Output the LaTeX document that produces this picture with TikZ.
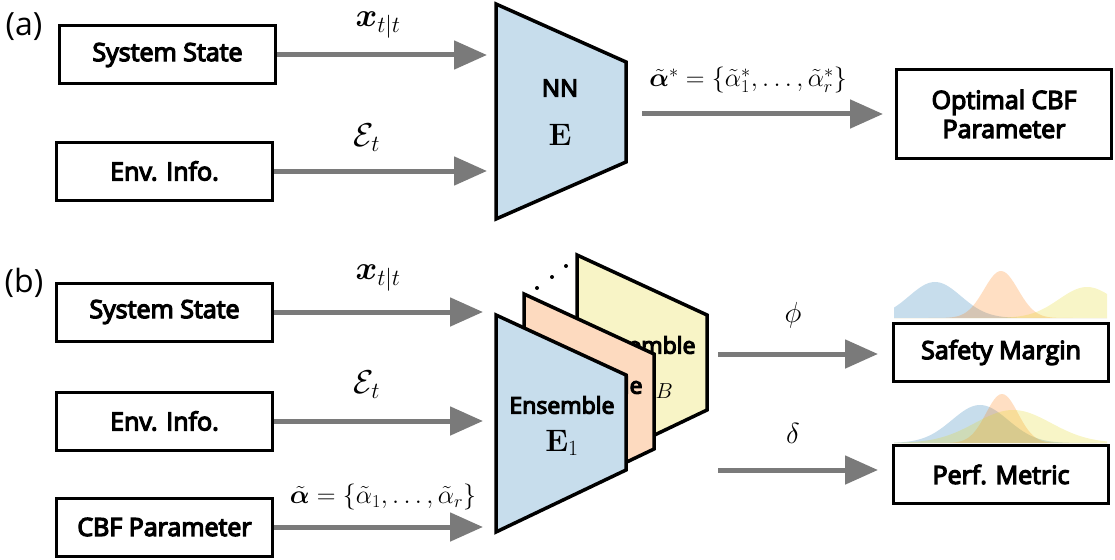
\RequirePackage{fix-cm}
\documentclass[tikz,border=0pt]{standalone}
\usepackage[no-math]{fontspec}
\usepackage{amsmath,bm}
\newfontfamily\ns{Open Sans}[AutoFakeBold=5]
\usetikzlibrary{arrows.meta}
\definecolor{arrgray}{RGB}{122,122,122}
\definecolor{cblue}{RGB}{199,221,236}
\definecolor{corange}{RGB}{253,218,191}
\definecolor{cyellow}{RGB}{248,244,198}
\definecolor{tabblue}{RGB}{31,119,180}
\definecolor{taborange}{RGB}{255,127,14}
\definecolor{tabyellow}{RGB}{228,216,30}
\tikzset{
  box/.style={draw=black, line width=3pt, minimum width=216pt, minimum height=58pt, inner sep=0pt, font=\ns\bfseries\fontsize{25}{29}\selectfont, align=center},
  conn/.style={draw=arrgray, line width=5pt, -{Triangle[length=33pt,width=28pt]}},
  lbl/.style={inner sep=0pt, font=\fontsize{26}{30}\selectfont},
  biglbl/.style={inner sep=0pt, font=\fontsize{33}{37}\selectfont},
  grk/.style={inner sep=0pt, font=\fontsize{29}{33}\selectfont},
  trap/.style={draw=black, line width=3.5pt, line join=miter},
  tlbl/.style={inner sep=0pt, font=\ns\bfseries\fontsize{23}{27}\selectfont},
  nnlbl/.style={inner sep=0pt, font=\ns\bfseries\fontsize{24}{28}\selectfont},
  mlbl/.style={inner sep=0pt, font=\fontsize{31}{35}\selectfont},
  tag/.style={inner sep=0pt, font=\ns\fontsize{32}{36}\selectfont},
}
\begin{document}
\begin{tikzpicture}[x=1pt,y=-1pt]
\useasboundingbox (0,0) rectangle (1115,559);
% ---------- (a) ----------
\node[tag] (taga) at (24,27) {(a)};
\node[box] (ssa) at (167.5,55) {System State};
\node[box] (enva) at (164.5,171) {Env. Info.};
\node[box, minimum width=215pt, minimum height=89pt] (opt) at (1004,114) {Optimal CBF\\Parameter};
\coordinate (ina) at (487,0);
\draw[conn] (ssa.east) -- (ssa.east -| ina);
\draw[conn] (enva.east) -- (enva.east -| ina);
\node[biglbl] (lxa) at (378,25) {$\boldsymbol{x}_{t|t}$};
\node[biglbl] (lea) at (367,138) {$\mathcal{E}_t$};
\draw[trap, fill=cblue] (496,4) -- (626,62) -- (626,162) -- (496,219) -- cycle;
\node[nnlbl] (nnt) at (560,88) {NN};
\node[mlbl] (nne) at (560,135) {$\mathbf{E}$};
\coordinate (outa) at (642,114);
\draw[conn, shorten >=12pt] (outa) -- (opt.west);
\node[lbl] (lal) at (748,80) {$\tilde{\boldsymbol{\alpha}}^{*}=\{\tilde{\alpha}_1^{*},\ldots,\tilde{\alpha}_r^{*}\}$};
% ---------- (b) ----------
\node[tag] (tagb) at (24,283) {(b)};
\node[box] (ssb) at (164.5,312) {System State};
\node[box] (envb) at (164.5,421) {Env. Info.};
\node[box] (cbf) at (164.5,527) {CBF Parameter};
\coordinate (inb) at (483,0);
\draw[conn] (ssb.east) -- (ssb.east -| inb);
\draw[conn] (envb.east) -- (envb.east -| inb);
\draw[conn] (cbf.east) -- (cbf.east -| inb);
\node[biglbl] (lxb) at (378,278) {$\boldsymbol{x}_{t|t}$};
\node[biglbl] (leb) at (367,385) {$\mathcal{E}_t$};
\node[lbl] (lab) at (383,497) {$\tilde{\boldsymbol{\alpha}}=\{\tilde{\alpha}_1,\ldots,\tilde{\alpha}_r\}$};
% ensemble stack
\draw[trap, fill=cyellow] (577,255) -- (707,315) -- (707,410) -- (577,472) -- cycle;
\node[tlbl] (yt) at (643,345) {Ensemble};
\node[mlbl] (ye) at (653,386) {$\mathbf{E}_B$};
\draw[trap, fill=corange] (524,294) -- (654,354) -- (654,449) -- (524,511) -- cycle;
\node[tlbl] (ot) at (590,385) {Ensemble};
\draw[trap, fill=cblue] (496,315) -- (626,375) -- (626,470) -- (496,532) -- cycle;
\node[tlbl] (bt) at (562,405) {Ensemble};
\node[mlbl] (be) at (562,443) {$\mathbf{E}_1$};
\fill (537,288) circle (2pt) (552,277) circle (2pt) (566,266) circle (2pt);
% outputs
\node[box, minimum width=215pt] (sm) at (1001,352.5) {Safety Margin};
\node[box, minimum width=215pt] (pm) at (1001,474.5) {Perf. Metric};
\coordinate (phis) at (718,354);
\coordinate (dels) at (718,470);
\draw[conn, shorten >=14pt] (phis) -- (phis -| sm.west);
\draw[conn, shorten >=14pt] (dels) -- (dels -| pm.west);
\node[grk] (lphi) at (793,315) {$\phi$};
\node[grk] (ldel) at (793,433) {$\delta$};
% distributions
\fill[tabblue, fill opacity=.25] (894,318) -- plot[domain=894:1107,samples=90] (\x,{318-36*exp(max(-12,-0.5*((\x-935)/26)^2))}) -- (1107,318) -- cycle;
\fill[taborange, fill opacity=.25] (894,318) -- plot[domain=894:1107,samples=90] (\x,{318-47*exp(max(-12,-0.5*((\x-1001)/17)^2))}) -- (1107,318) -- cycle;
\fill[tabyellow, fill opacity=.25] (894,318) -- plot[domain=894:1107,samples=90] (\x,{318-31*exp(max(-12,-0.5*((\x-1087)/28)^2))}) -- (1107,318) -- cycle;
\fill[tabblue, fill opacity=.25] (894,443) -- plot[domain=894:1107,samples=90] (\x,{443-38*exp(max(-12,-0.5*((\x-980)/28)^2))}) -- (1107,443) -- cycle;
\fill[taborange, fill opacity=.25] (894,443) -- plot[domain=894:1107,samples=90] (\x,{443-49*exp(max(-12,-0.5*((\x-1002)/16)^2))}) -- (1107,443) -- cycle;
\fill[tabyellow, fill opacity=.25] (894,443) -- plot[domain=894:1107,samples=90] (\x,{443-33*exp(max(-12,-0.5*((\x-1013)/38)^2))}) -- (1107,443) -- cycle;
\end{tikzpicture}
\end{document}
